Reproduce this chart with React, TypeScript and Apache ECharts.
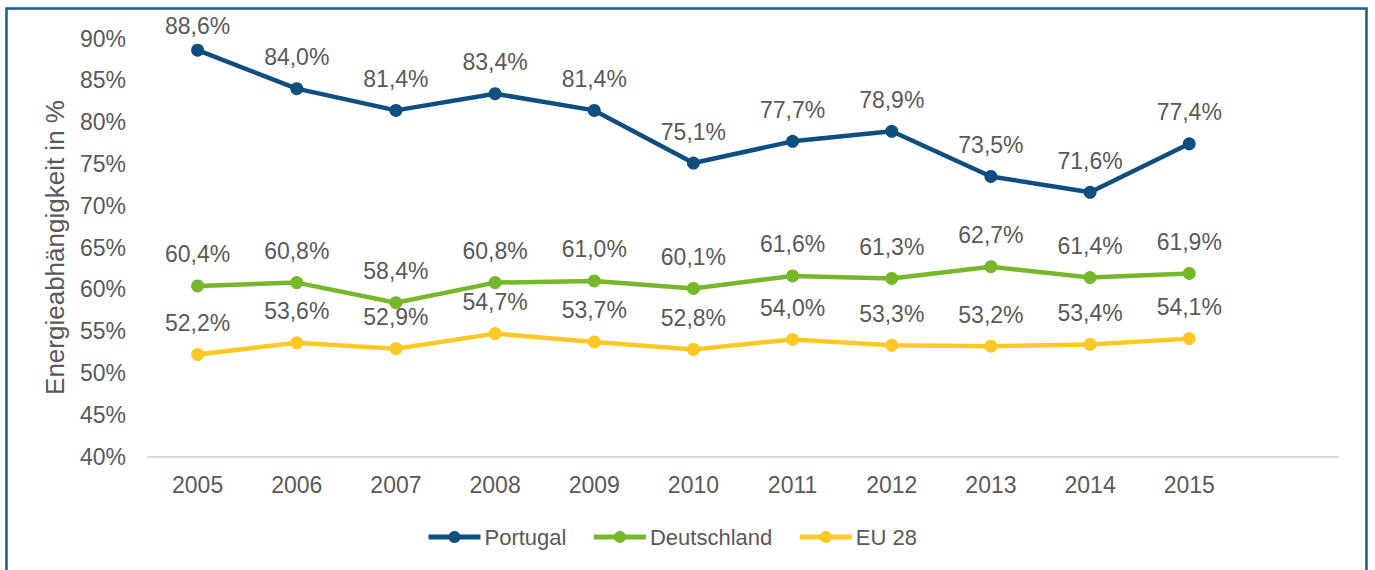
import React, { useEffect, useRef } from "react";
import * as echarts from "echarts";

const years = ["2005", "2006", "2007", "2008", "2009", "2010", "2011", "2012", "2013", "2014", "2015", ""];
const portugal = [88.6, 84.0, 81.4, 83.4, 81.4, 75.1, 77.7, 78.9, 73.5, 71.6, 77.4];
const deutschland = [60.4, 60.8, 58.4, 60.8, 61.0, 60.1, 61.6, 61.3, 62.7, 61.4, 61.9];
const eu28 = [52.2, 53.6, 52.9, 54.7, 53.7, 52.8, 54.0, 53.3, 53.2, 53.4, 54.1];

const fmt = (v: number) => v.toFixed(1).replace(".", ",") + "%";
const FONT = "'Liberation Sans', Arial, sans-serif";
const TXT = "#595959";

export default function App() {
  const ref = useRef<HTMLDivElement>(null);
  useEffect(() => {
    if (!ref.current) return;
    const chart = echarts.init(ref.current, undefined, { renderer: "svg" });
    const mk = (name: string, data: number[], color: string, firstDistance?: number) => ({
      name,
      type: "line",
      data: data.map((v, i) =>
        i === 0 && firstDistance !== undefined ? { value: v, label: { distance: firstDistance } } : v
      ),
      symbol: "circle",
      symbolSize: 13,
      lineStyle: { width: 4.5, color },
      itemStyle: { color },
      label: {
        show: true,
        position: "top",
        distance: 13.5,
        fontSize: 23,
        fontFamily: FONT,
        color: TXT,
        formatter: (p: any) => fmt(p.value),
      },
    });
    chart.setOption({
      animation: false,
      textStyle: { fontFamily: FONT },
      graphic: [
        {
          type: "rect",
          shape: { x: 6.5, y: 8.5, width: 1360, height: 620 },
          style: { fill: "none", stroke: "#1d5b88", lineWidth: 2.5 },
          silent: true,
        },
      ],
      grid: { left: 148, right: 37, top: 38.5, bottom: 113.5 },
      legend: {
        top: 521,
        left: 421,
        itemWidth: 52,
        itemHeight: 15,
        itemGap: 25,
        lineStyle: { width: 5 },
        textStyle: { fontSize: 22, color: TXT, fontFamily: FONT, padding: [0, 0, 0, -1] },
        data: ["Portugal", "Deutschland", "EU 28"],
      },
      xAxis: {
        type: "category",
        data: years,
        boundaryGap: true,
        axisTick: { show: false },
        axisLine: { lineStyle: { color: "#d9d9d9", width: 2 } },
        axisLabel: { fontSize: 23, color: TXT, margin: 17, fontFamily: FONT },
      },
      yAxis: {
        type: "value",
        min: 40,
        max: 90,
        interval: 5,
        name: "Energieabhängigkeit in %",
        nameLocation: "middle",
        nameGap: 80,
        nameTextStyle: { fontSize: 26, color: TXT, fontFamily: FONT },
        splitLine: { show: false },
        axisLine: { show: false },
        axisTick: { show: false },
        axisLabel: { fontSize: 23, color: TXT, margin: 22, fontFamily: FONT, formatter: (v: number) => v + "%" },
      },
      series: [
        mk("Portugal", portugal, "#0e4f80", 6),
        mk("Deutschland", deutschland, "#76b82a"),
        mk("EU 28", eu28, "#ffc824"),
      ],
    });
    return () => chart.dispose();
  }, []);
  return <div ref={ref} style={{ position: "absolute", left: 0, top: 0, width: 1375, height: 570 }} />;
}
